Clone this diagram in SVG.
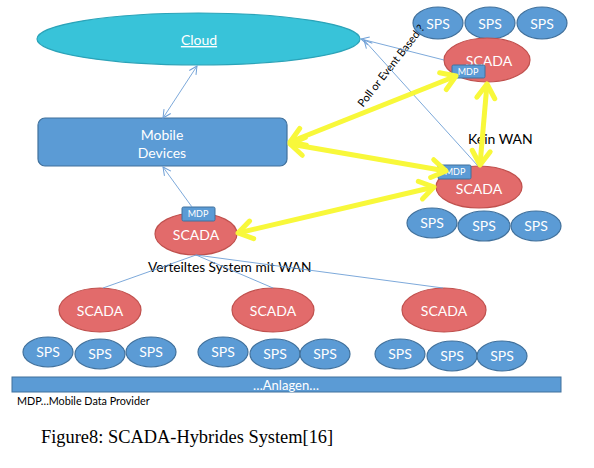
<svg xmlns="http://www.w3.org/2000/svg" width="594" height="468" viewBox="0 0 594 468">
<style>
.sps{fill:#5b9bd5;stroke:#41719c;stroke-width:1.2}
.scada{fill:#e26b6b;stroke:#c0504d;stroke-width:1.2}
.mdp{fill:#5b9bd5;stroke:#41719c;stroke-width:1}
.wt{font-family:Lato,"Open Sans",sans-serif;fill:#ffffff;text-anchor:middle}
.n14{font-size:14px}
.n9{font-size:9px}
.bt{font-family:Lato,"Open Sans",sans-serif;fill:#000000}
.thin{stroke:#6e9fd6;stroke-width:0.9;fill:none}
.yel{stroke:#f8f83a;stroke-width:5;fill:none}
</style>
<defs>
<marker id="ah" markerUnits="userSpaceOnUse" markerWidth="14" markerHeight="14" viewBox="-10 -7 14 14" refX="0" refY="0" orient="auto-start-reverse">
<path d="M-8,-4 L0,0 L-8,4" fill="none" stroke="#6e9fd6" stroke-width="1"/>
</marker>
<marker id="yh" markerUnits="userSpaceOnUse" markerWidth="34" markerHeight="34" viewBox="-22 -17 34 34" refX="0" refY="0" orient="auto-start-reverse">
<path d="M-14,-9 L0,0 L-14,9" fill="none" stroke="#f8f83a" stroke-width="5" stroke-linejoin="round" stroke-linecap="round"/>
</marker>
</defs>
<rect x="0" y="0" width="594" height="468" fill="#ffffff"/>

<g id="cloud">
<ellipse cx="198.5" cy="39" rx="161.5" ry="26" fill="#38c3d9" stroke="#2ba3b8" stroke-width="1.2"/>
<text class="wt n14" x="199" y="45" text-decoration="underline">Cloud</text>
</g>

<g id="mobile-devices">
<rect x="38" y="118" width="249" height="48" rx="7" fill="#5b9bd5" stroke="#41719c" stroke-width="1.2"/>
<text class="wt n14" x="162" y="140">Mobile</text>
<text class="wt n14" x="162" y="158">Devices</text>
</g>

<g id="sps-top">
<ellipse class="sps" cx="438" cy="23" rx="25" ry="16"/>
<ellipse class="sps" cx="490" cy="23" rx="25" ry="16"/>
<ellipse class="sps" cx="542" cy="23" rx="25" ry="16"/>
<text class="wt n14" x="438" y="29">SPS</text>
<text class="wt n14" x="490" y="29">SPS</text>
<text class="wt n14" x="542" y="29">SPS</text>
</g>

<g id="scada-top">
<ellipse class="scada" cx="487" cy="60" rx="43" ry="22"/>
<text class="wt n14" x="489" y="66">SCADA</text>
<rect class="mdp" x="452" y="65" width="33" height="13" rx="1.5"/>
<text class="wt n9" x="468" y="75">MDP</text>
</g>

<g id="scada-right">
<ellipse class="scada" cx="479" cy="187" rx="43" ry="21"/>
<text class="wt n14" x="479" y="194">SCADA</text>
<rect class="mdp" x="438" y="165" width="33" height="14" rx="1.5"/>
<text class="wt n9" x="455" y="175">MDP</text>
</g>

<g id="sps-right">
<ellipse class="sps" cx="432" cy="223" rx="25" ry="15"/>
<ellipse class="sps" cx="484" cy="226" rx="26" ry="15"/>
<ellipse class="sps" cx="536" cy="226" rx="25" ry="15"/>
<text class="wt n14" x="432" y="228">SPS</text>
<text class="wt n14" x="484" y="231">SPS</text>
<text class="wt n14" x="536" y="231">SPS</text>
</g>

<g id="scada-center">
<ellipse class="scada" cx="196" cy="234" rx="41" ry="21"/>
<text class="wt n14" x="196" y="240">SCADA</text>
<rect class="mdp" x="182" y="207" width="33" height="14" rx="1.5"/>
<text class="wt n9" x="198" y="217">MDP</text>
</g>

<g id="scada-left">
<ellipse class="scada" cx="100" cy="310" rx="41" ry="22"/>
<text class="wt n14" x="100" y="316">SCADA</text>
</g>
<g id="scada-middle">
<ellipse class="scada" cx="273" cy="310" rx="41" ry="22"/>
<text class="wt n14" x="273" y="316">SCADA</text>
</g>
<g id="scada-far-right">
<ellipse class="scada" cx="444" cy="310" rx="42" ry="22"/>
<text class="wt n14" x="444" y="316">SCADA</text>
</g>

<g id="sps-left">
<ellipse class="sps" cx="48" cy="352" rx="25" ry="15"/>
<ellipse class="sps" cx="100" cy="354" rx="25" ry="15"/>
<ellipse class="sps" cx="151" cy="352" rx="25" ry="15"/>
<text class="wt n14" x="48" y="357">SPS</text>
<text class="wt n14" x="100" y="359">SPS</text>
<text class="wt n14" x="151" y="357">SPS</text>
</g>
<g id="sps-middle">
<ellipse class="sps" cx="223" cy="352" rx="25" ry="15"/>
<ellipse class="sps" cx="275" cy="354" rx="25" ry="15"/>
<ellipse class="sps" cx="325" cy="354" rx="25" ry="15"/>
<text class="wt n14" x="223" y="357">SPS</text>
<text class="wt n14" x="275" y="359">SPS</text>
<text class="wt n14" x="325" y="359">SPS</text>
</g>
<g id="sps-far-right">
<ellipse class="sps" cx="400" cy="354" rx="25" ry="15"/>
<ellipse class="sps" cx="452" cy="356" rx="25" ry="15"/>
<ellipse class="sps" cx="502" cy="356" rx="25" ry="15"/>
<text class="wt n14" x="400" y="359">SPS</text>
<text class="wt n14" x="452" y="361">SPS</text>
<text class="wt n14" x="502" y="361">SPS</text>
</g>

<g id="anlagen">
<rect x="12" y="377" width="549" height="15" fill="#5b9bd5" stroke="#41719c" stroke-width="1"/>
<text class="wt" font-size="13" x="286" y="390">…Anlagen…</text>
</g>

<g id="labels">
<text class="bt" font-size="13.7" x="148" y="272">Verteiltes System mit WAN</text>
<text class="bt" font-size="14" x="468" y="144">Kein WAN</text>
<text class="bt" font-size="11" text-anchor="middle" transform="translate(394,68) rotate(-52)">Poll or Event Based ?</text>
<text class="bt" font-size="10.8" x="17" y="405">MDP…Mobile Data Provider</text>
<text font-family="'Liberation Serif',serif" font-size="18.4" fill="#000000" x="41" y="443">Figure8: SCADA-Hybrides System[16]</text>
</g>

<g id="connectors">
<line class="thin" x1="163" y1="118" x2="197" y2="66" marker-start="url(#ah)" marker-end="url(#ah)"/>
<line class="thin" x1="192" y1="207" x2="163" y2="167" marker-end="url(#ah)"/>
<line class="thin" x1="444" y1="60" x2="361" y2="39" marker-end="url(#ah)"/>
<line class="thin" x1="478" y1="166" x2="364" y2="40" marker-end="url(#ah)"/>
<line class="thin" x1="196" y1="255" x2="103" y2="288"/>
<line class="thin" x1="196" y1="255" x2="273" y2="288"/>
<line class="thin" x1="196" y1="255" x2="443" y2="288"/>
<line class="yel" x1="290" y1="142" x2="456" y2="76" marker-start="url(#yh)" marker-end="url(#yh)"/>
<line class="yel" x1="290" y1="144" x2="446" y2="171" marker-start="url(#yh)" marker-end="url(#yh)"/>
<line class="yel" x1="238" y1="233" x2="434" y2="187" marker-start="url(#yh)" marker-end="url(#yh)"/>
<line class="yel" x1="487" y1="84" x2="480" y2="165" marker-start="url(#yh)" marker-end="url(#yh)"/>
</g>
</svg>
